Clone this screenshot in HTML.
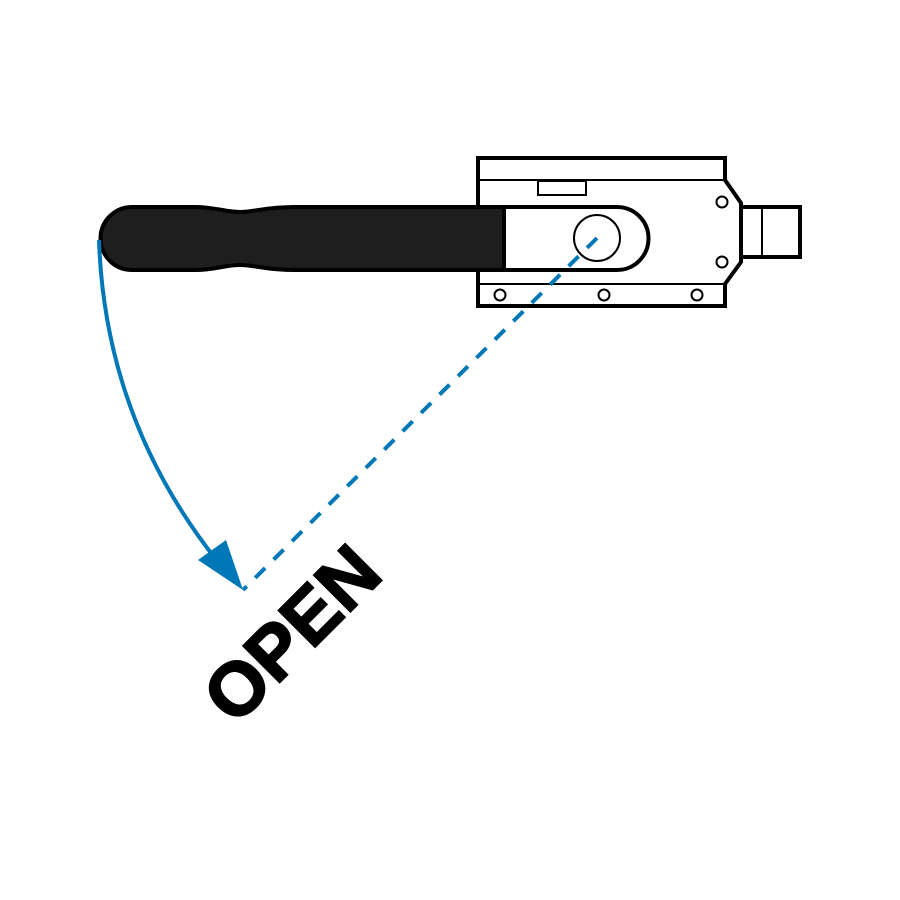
<!DOCTYPE html>
<html><head><meta charset="utf-8"><style>
html,body{margin:0;padding:0;background:#fff;}
svg{display:block;}
</style></head><body>
<svg width="900" height="900" viewBox="0 0 900 900" xmlns="http://www.w3.org/2000/svg">
<rect width="900" height="900" fill="#fff"/>
<path d="M478,158 L725,158 L725,180 L741,203 L741,262 L725,284 L725,306 L478,306 Z" fill="#fff" stroke="#000" stroke-width="4"/>
<line x1="478" y1="180" x2="725" y2="180" stroke="#000" stroke-width="2"/>
<line x1="478" y1="284" x2="725" y2="284" stroke="#000" stroke-width="2"/>
<rect x="538" y="181" width="48" height="14" fill="#fff" stroke="#000" stroke-width="2"/>
<circle cx="722" cy="202" r="5.5" fill="#fff" stroke="#000" stroke-width="2"/>
<circle cx="722" cy="262" r="5.5" fill="#fff" stroke="#000" stroke-width="2"/>
<circle cx="500" cy="295" r="5.5" fill="#fff" stroke="#000" stroke-width="2"/>
<circle cx="604" cy="295" r="5.5" fill="#fff" stroke="#000" stroke-width="2"/>
<circle cx="697" cy="295" r="5.5" fill="#fff" stroke="#000" stroke-width="2"/>
<rect x="741" y="207" width="59" height="50" fill="#fff" stroke="#000" stroke-width="4"/>
<line x1="762" y1="207" x2="762" y2="257" stroke="#000" stroke-width="2"/>
<path d="M504,207 L617,207 A31.5,31.5 0 0 1 617,270 L504,270 Z" fill="#fff" stroke="#000" stroke-width="4"/>
<circle cx="597" cy="238" r="23" fill="#fff" stroke="#000" stroke-width="2"/>
<path d="M504,207 L295,207 C265,207 255,212 240,212 C225,212 215,207 195,207 L132,207 A31.5,31.5 0 0 0 132,270 L195,270 C215,270 225,265 240,265 C255,265 265,270 295,270 L504,270 Z" fill="#1e1e1e" stroke="#000" stroke-width="4"/>
<line x1="597" y1="238" x2="243" y2="590" stroke="#0077b6" stroke-width="4" stroke-dasharray="14,12"/>
<path d="M99,240 Q105,420 218,562" fill="none" stroke="#0077b6" stroke-width="4"/>
<polygon points="243,590 198,560 226,540" fill="#0077b6"/>
<text x="0" y="0" transform="translate(296,638) rotate(-45)" text-anchor="middle" dominant-baseline="middle" font-family="Liberation Sans, Arial, sans-serif" font-weight="bold" font-size="75" fill="#000" stroke="#000" stroke-width="2">OPEN</text>
</svg>
</body></html>
